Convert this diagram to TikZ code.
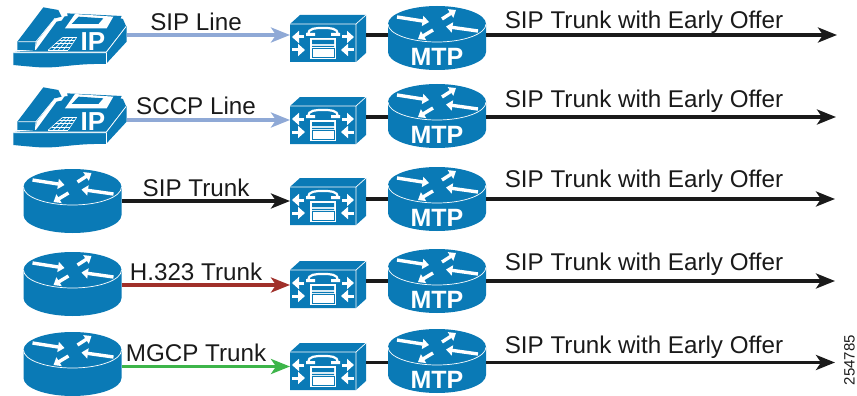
\documentclass[tikz,border=0pt]{standalone}
\usepackage{fontspec}
\setmainfont{Liberation Sans}
\usetikzlibrary{arrows.meta,calc}
\definecolor{cblue}{HTML}{0A7AB6}
\definecolor{lblue}{HTML}{8FA9D6}
\definecolor{cred}{HTML}{A0302A}
\definecolor{cgreen}{HTML}{3DB54A}
\definecolor{cblack}{HTML}{1A1A1A}
\tikzset{
  hot/.style={inner sep=0pt,outer sep=0pt,minimum height=1pt},
  conn/.style={line width=3.4pt,-{Stealth[length=19pt,width=15pt,inset=5pt]}},
  plain/.style={line width=3.6pt,color=cblack},
  lab/.style={inner sep=0pt,text=cblack,font=\fontsize{24.2}{26}\selectfont},
  wa/.style={line width=3.4pt,white,-{Triangle[length=6.5pt,width=10pt]}},
  ws/.style={line width=3pt,white,-{Triangle[length=7pt,width=12pt]}},
  pics/router/.style={code={
    \fill[cblue] (-49,0) -- (-49,28) arc[start angle=180,end angle=0,x radius=49,y radius=18] -- (49,0) arc[start angle=0,end angle=-180,x radius=49,y radius=18] -- cycle;
    \draw[white,line width=.7pt] (-49,0) arc[start angle=180,end angle=0,x radius=49,y radius=18];
    \draw[wa] (-40,-7) -- (-8,-2);
    \draw[wa] (5,-5) -- (19,-14);
    \draw[wa] (41,7) -- (9,2.5);
    \draw[wa] (-4,6) -- (-19,15);
  }},
  pics/gateway/.style={code={
    \fill[cblue] (-33,-19) -- (-23,-28) -- (43,-28) -- (43,10) -- (33,19) -- (-33,19) -- cycle;
    \draw[white,line width=.7pt] (-33,-19) -- (33,-19) -- (33,19) (33,-19) -- (43,-28);
    \draw[white,line width=2.2pt] (-15,-8.5) .. controls (-15,-15) and (-7,-15) .. (0,-15) .. controls (7,-15) and (15,-15) .. (15,-8.5);
    \fill[white] (-17,-7) rectangle (-8,-10) (8,-10) rectangle (17,-7);
    \fill[white] (-13,-5) rectangle (13,16);
    \fill[cblue] (-11,-3) rectangle (11,1) (-11,3) rectangle (11,4);
    \fill[white!85!cblue] (-11,1) rectangle (11,3);
    \draw[cblue,line width=.6pt] (-11,5) rectangle (11,14);
    \draw[ws] (-19,-6) -- (-31,-6);
    \draw[ws] (-31,7) -- (-18,7);
    \draw[ws] (19,-6) -- (31,-6);
    \draw[ws] (31,7) -- (18,7);
  }},
  pics/phone/.style={code={
    \begin{scope}[x=.3333pt,y=-.3333pt]
    \fill[cblue] (40,158) -- (318,158) -- (380,78) -- (380,125) -- (318,192) .. controls (220,190) and (180,205) .. (120,202) .. controls (90,200) and (60,197) .. (40,195) -- cycle;
    \fill[cblue] (45,155) -- (108,150) -- (170,65) -- (185,62) -- (200,40) -- (365,48) -- (378,78) -- (318,155) -- cycle;
    \fill[cblue] (52,125) -- (130,22) -- (175,30) -- (185,50) -- (165,55) -- (110,125) -- (105,150) -- (52,150) -- cycle;
    \draw[white,line width=.7pt] (40,158) -- (318,158) -- (378,80);
    \draw[white,line width=.7pt] (318,158) -- (318,192);
    \draw[white,line width=.7pt] (55,125) -- (108,125) -- (165,55);
    \draw[white,line width=.7pt] (108,125) -- (106,150);
    \fill[white] (185,50) -- (200,35) -- (203,48) -- cycle;
    \fill[white] (362,55) -- (368,42) -- (376,58) -- cycle;
    \fill[white] (195,85) -- (225,42) -- (340,50) -- (320,85) -- cycle;
    \fill[cblue] (215,72) -- (236,50) -- (310,55) -- (295,72) -- cycle;
    \foreach \t in {0,.25,.5,.75,1}{
      \draw[white,line width=.6pt] ($(145,150)!\t!(188,112)$) -- ($(205,150)!\t!(230,112)$);
    }
    \foreach \t in {0,.25,.5,.75,1}{
      \draw[white,line width=.6pt] ($(145,150)!\t!(205,150)$) -- ($(188,112)!\t!(230,112)$);
    }
    \end{scope}
    \node[inner sep=0pt,text=white,font=\fontsize{26}{28}\selectfont\bfseries] at (93,42) {IP};
  }},
}
\begin{document}
\begin{tikzpicture}[x=1pt,y=-1pt]
\useasboundingbox (0,0) rectangle (857,396);

% row icons
\pic at (0,0) {phone};
\pic at (0,80) {phone};
\pic at (72.5,187) {router};
\pic at (72.5,270) {router};
\pic at (72.5,350) {router};
\foreach \gy in {43,125,206,289,371} \pic at (323,\gy) {gateway};
\foreach \ry in {24,102,185,267,347}{
  \pic at (437,\ry) {router};
  \node[inner sep=0pt,text=white,font=\fontsize{25}{26}\selectfont\bfseries] at (437,\ry+33) {MTP};
}

% anchor nodes for the connectors
\node[hot,minimum width=10pt] (p1) at (122,35) {};
\node[hot,minimum width=10pt] (p2) at (122,120) {};
\node[hot,minimum width=98pt] (s3) at (72.5,201) {};
\node[hot,minimum width=98pt] (s4) at (72.5,285) {};
\node[hot,minimum width=98pt] (s5) at (72.5,366.5) {};
\node[hot,minimum width=66pt,minimum height=38pt] (g1) at (323,43) {};
\node[hot,minimum width=66pt,minimum height=38pt] (g2) at (323,125) {};
\node[hot,minimum width=66pt,minimum height=38pt] (g3) at (323,206) {};
\node[hot,minimum width=66pt,minimum height=38pt] (g4) at (323,289) {};
\node[hot,minimum width=66pt,minimum height=38pt] (g5) at (323,371) {};
\node[hot,minimum width=98pt] (m1) at (437,35) {};
\node[hot,minimum width=98pt] (m2) at (437,117) {};
\node[hot,minimum width=98pt] (m3) at (437,199) {};
\node[hot,minimum width=98pt] (m4) at (437,281) {};
\node[hot,minimum width=98pt] (m5) at (437,362.5) {};
\coordinate (e1) at (837,35);
\coordinate (e2) at (836,117);
\coordinate (e3) at (835,199);
\coordinate (e4) at (835,281);
\coordinate (e5) at (835,362.5);

% connectors
\draw[conn,lblue] (p1.east) -- (p1.east -| g1.west);
\draw[conn,lblue] (p2.east) -- (p2.east -| g2.west);
\draw[conn,cblack] (s3.east) -- (s3.east -| g3.west);
\draw[conn,cred] (s4.east) -- (s4.east -| g4.west);
\draw[conn,cgreen] (s5.east) -- (s5.east -| g5.west);
\foreach \i in {1,...,5}{
  \draw[plain] ($(m\i.west -| g\i.east)+(10,0)$) -- (m\i.west);
  \draw[conn,cblack] (m\i.east) -- (e\i);
}

% labels
\node[lab] (l1) at (196,21.5) {SIP Line};
\node[lab] (l2) at (196,105.5) {SCCP Line};
\node[lab] (l3) at (196,187.5) {SIP Trunk};
\node[lab] (l4) at (196,271.5) {H.323 Trunk};
\node[lab] (l5) at (196,352.5) {MGCP Trunk};
\node[lab] (t1) at (644,22) {SIP Trunk with Early Offer};
\node[lab] (t2) at (644,101) {SIP Trunk with Early Offer};
\node[lab] (t3) at (644,181.5) {SIP Trunk with Early Offer};
\node[lab] (t4) at (644,264.5) {SIP Trunk with Early Offer};
\node[lab] (t5) at (644,347.5) {SIP Trunk with Early Offer};
\node[inner sep=0pt,text=cblack,rotate=90,font=\fontsize{15}{16}\selectfont] (id) at (849.5,360) {254785};
\end{tikzpicture}
\end{document}
